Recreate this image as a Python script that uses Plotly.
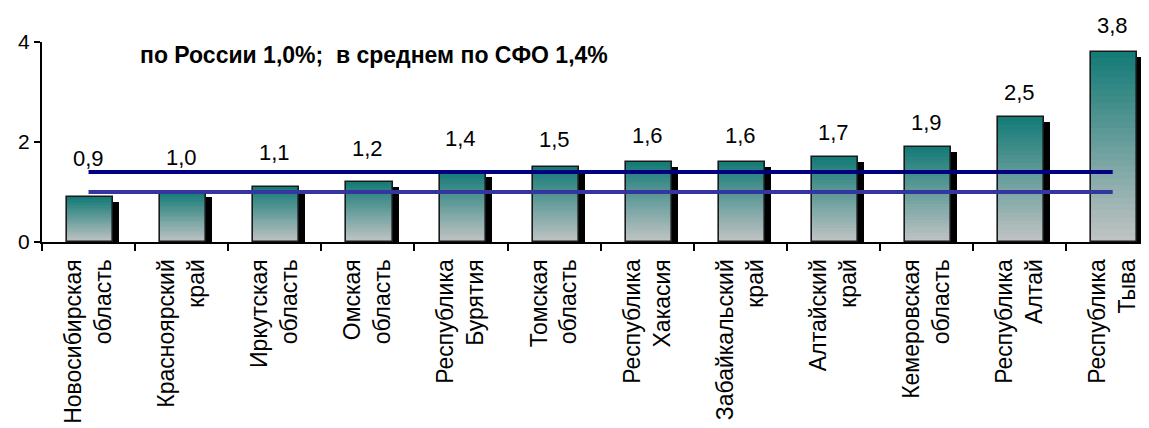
import plotly.graph_objects as go

categories = [
    "Новосибирская<br>область", "Красноярский<br>край", "Иркутская<br>область",
    "Омская<br>область", "Республика<br>Бурятия", "Томская<br>область",
    "Республика<br>Хакасия", "Забайкальский<br>край", "Алтайский<br>край",
    "Кемеровская<br>область", "Республика<br>Алтай", "Республика<br>Тыва",
]
values = [0.9, 1.0, 1.1, 1.2, 1.4, 1.5, 1.6, 1.6, 1.7, 1.9, 2.5, 3.8]
russia_avg = [1.0] * len(categories)
sfo_avg = [1.4] * len(categories)
labels = [f"{v:.1f}".replace(".", ",") for v in values]
title_text = "по России 1,0%;  в среднем по СФО 1,4%"

# label pixel offsets above bar tops (style, as placed in the original)
label_shift = [39, 35, 35, 34, 34, 28, 27, 27, 25, 25, 25, 27]

FONT = "Liberation Sans, Arial, sans-serif"
BAR_W = 0.495
BAR_OFF = -0.23
SHADOW_OFF = -0.165
N_SEG = 30
top_rgb = (18, 122, 118)
bot_rgb = (194, 196, 196)
X_RANGE = [-0.5, 11.39]
Y_RANGE = [0, 4]

# page body has an 8px default margin; figure sized/margined to compensate
W, H = 1141, 420
ML, MT, MR = 34, 34, 0
PLOT_H = 200
MB = H - MT - PLOT_H

fig = go.Figure()

# shadow
fig.add_trace(go.Bar(
    x=categories, y=[v - 0.1 for v in values], width=BAR_W, offset=SHADOW_OFF,
    marker=dict(color="black", line=dict(width=0)), hoverinfo="skip", showlegend=False,
))

# gradient segments
for k in range(N_SEG):
    t = (k + 0.5) / N_SEG
    col = tuple(round(b + (tp - b) * t) for b, tp in zip(bot_rgb, top_rgb))
    fig.add_trace(go.Bar(
        x=categories, y=[v / N_SEG * 1.02 for v in values],
        base=[v * k / N_SEG for v in values],
        width=BAR_W, offset=BAR_OFF,
        marker=dict(color=f"rgb{col}", line=dict(width=0)),
        hoverinfo="skip", showlegend=False,
    ))

# outline
fig.add_trace(go.Bar(
    x=categories, y=values, width=BAR_W, offset=BAR_OFF,
    marker=dict(color="rgba(0,0,0,0)", line=dict(color="#1a1a1a", width=1.6)),
    hoverinfo="skip", showlegend=False,
))

fig.add_trace(go.Scatter(
    x=categories, y=sfo_avg, mode="lines",
    line=dict(color="#000080", width=4), showlegend=False, hoverinfo="skip",
))
fig.add_trace(go.Scatter(
    x=categories, y=russia_avg, mode="lines",
    line=dict(color="#3535a0", width=4), showlegend=False, hoverinfo="skip",
))

for c, v, lab, sh in zip(categories, values, labels, label_shift):
    fig.add_annotation(
        x=c, y=v, text=lab, showarrow=False, yanchor="middle", yshift=sh,
        font=dict(family=FONT, size=22, color="black"),
    )

title_px_x, title_px_y = 374 - 8, 55 - 8
fig.add_annotation(
    x=(title_px_x - ML) / (W - ML - MR), y=1 - (title_px_y - MT) / PLOT_H,
    xref="paper", yref="paper", xanchor="center", yanchor="middle",
    text="<b>" + title_text + "</b>", showarrow=False,
    font=dict(family=FONT, size=23, color="black"),
)

fig.update_layout(
    width=W, height=H,
    margin=dict(l=ML, r=MR, t=MT, b=MB, autoexpand=False),
    paper_bgcolor="white", plot_bgcolor="white",
    barmode="overlay", bargap=0,
    font=dict(family=FONT, size=21, color="black"),
    xaxis=dict(
        type="category", range=X_RANGE,
        showline=True, linecolor="black", linewidth=2,
        ticks="outside", tickson="boundaries", ticklen=7, tickwidth=2, tickcolor="black",
        tickangle=-90, showgrid=False, zeroline=False, ticklabelstandoff=6,
        tickfont=dict(family=FONT, size=23),
    ),
    yaxis=dict(
        range=Y_RANGE, tickvals=[0, 2, 4], ticktext=["0", "2", "4"],
        showline=True, linecolor="black", linewidth=2,
        ticks="outside", ticklen=6, tickwidth=2, tickcolor="black",
        showgrid=False, zeroline=False,
        tickfont=dict(family=FONT, size=21),
    ),
    # inner halves of the crossing tick marks
    xaxis2=dict(
        overlaying="x", anchor="y", side="bottom", range=X_RANGE,
        tickvals=[i + 0.5 for i in range(len(categories) - 1)],
        ticks="inside", ticklen=6, tickwidth=2, tickcolor="black",
        showticklabels=False, showline=False, showgrid=False, zeroline=False,
    ),
    yaxis2=dict(
        overlaying="y", anchor="x", side="left", range=Y_RANGE,
        tickvals=[0, 2, 4],
        ticks="inside", ticklen=7, tickwidth=2, tickcolor="black",
        showticklabels=False, showline=False, showgrid=False, zeroline=False,
    ),
)

fig.write_html("out.html")
